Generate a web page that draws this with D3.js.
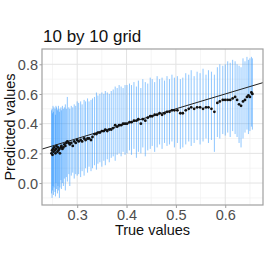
<!DOCTYPE html>
<html><head><meta charset="utf-8">
<script src="https://cdn.jsdelivr.net/npm/d3@7"></script>
<style>body{margin:0;background:#fff;}svg{display:block;font-family:"Liberation Sans",Arial,sans-serif;}</style>
</head><body>
<svg id="c" width="266" height="268"></svg>
<script>
const title = "10 by 10 grid";
const xLabel = "True values";
const yLabel = "Predicted values";
const xTicks = [0.3, 0.4, 0.5, 0.6];
const yTicks = [0.0, 0.2, 0.4, 0.6, 0.8];
const xMinor = [0.25, 0.35, 0.45, 0.55, 0.65];
const yMinor = [-0.1, 0.1, 0.3, 0.5, 0.7];

const trueVals = [
0.248,0.249,0.250,0.251,0.252,0.253,0.255,0.256,0.257,0.258,0.260,0.261,0.262,0.264,0.265,0.267,0.268,0.270,0.272,0.274,0.276,0.278,0.280,0.283,0.285,0.288,0.291,0.294,0.297,0.300,
0.303,0.307,0.310,0.314,0.317,0.321,0.324,0.328,0.331,0.335,0.339,0.342,0.346,0.350,0.354,0.357,0.361,0.365,0.369,0.373,0.377,0.381,0.385,0.389,0.393,0.397,
0.401,0.406,0.410,0.415,0.420,0.424,0.429,0.433,0.438,0.443,0.448,0.452,0.457,0.462,0.467,0.472,0.477,0.482,0.487,0.492,0.497,
0.503,0.509,0.514,0.520,0.526,0.531,0.537,0.543,0.549,0.555,0.561,0.566,0.572,0.578,0.584,0.589,0.595,
0.600,0.605,0.610,0.615,0.620,0.624,0.628,0.632,0.636,0.640,0.644,0.647,0.650,0.653,0.655];

const predVals = [
0.20,0.22,0.19,0.23,0.21,0.24,0.22,0.20,0.23,0.25,0.21,0.24,0.22,0.23,0.20,0.24,0.25,0.23,0.24,0.26,0.25,0.27,0.28,0.27,0.26,0.27,0.25,0.28,0.27,0.29,
0.28,0.29,0.28,0.30,0.29,0.30,0.30,0.29,0.31,0.33,0.33,0.34,0.34,0.35,0.35,0.36,0.35,0.36,0.36,0.37,0.39,0.38,0.39,0.39,0.40,0.40,
0.40,0.41,0.41,0.42,0.42,0.43,0.40,0.43,0.42,0.44,0.45,0.45,0.46,0.46,0.47,0.46,0.47,0.48,0.48,0.49,0.49,
0.49,0.47,0.47,0.49,0.50,0.51,0.50,0.51,0.51,0.50,0.51,0.51,0.50,0.48,0.54,0.55,0.56,
0.56,0.56,0.56,0.57,0.58,0.56,0.53,0.52,0.55,0.56,0.58,0.59,0.58,0.61,0.60];

const upperVals = [
0.49,0.50,0.47,0.52,0.48,0.51,0.50,0.46,0.52,0.51,0.49,0.50,0.52,0.48,0.50,0.51,0.49,0.52,0.50,0.51,0.53,0.50,0.58,0.51,0.50,0.52,0.51,0.53,0.52,0.55,
0.54,0.55,0.53,0.56,0.55,0.57,0.55,0.56,0.57,0.58,0.61,0.59,0.60,0.61,0.60,0.62,0.61,0.60,0.62,0.63,0.65,0.64,0.66,0.65,0.64,0.66,
0.66,0.67,0.66,0.68,0.65,0.69,0.64,0.70,0.68,0.67,0.71,0.70,0.68,0.72,0.70,0.71,0.69,0.72,0.70,0.73,0.71,
0.72,0.70,0.71,0.74,0.73,0.76,0.72,0.75,0.74,0.77,0.73,0.76,0.75,0.73,0.78,0.80,0.79,
0.80,0.82,0.81,0.83,0.82,0.80,0.79,0.78,0.84,0.82,0.85,0.83,0.84,0.85,0.84];

const lowerVals = [
-0.07,-0.10,-0.05,-0.02,-0.08,-0.03,-0.06,-0.09,0.00,-0.04,-0.07,-0.02,-0.05,-0.10,-0.03,0.02,-0.04,0.00,-0.02,0.03,-0.05,0.04,0.01,0.06,-0.02,0.05,0.07,0.03,0.06,0.05,
0.06,0.04,0.08,0.05,0.10,0.07,0.11,0.08,0.10,0.12,0.09,0.13,0.14,0.11,0.15,0.12,0.16,0.14,0.17,0.18,0.15,0.19,0.20,0.18,0.21,0.19,
0.20,0.22,0.19,0.23,0.17,0.21,0.20,0.24,0.18,0.22,0.23,0.25,0.21,0.24,0.26,0.23,0.27,0.25,0.26,0.28,0.24,
0.27,0.23,0.24,0.26,0.28,0.25,0.27,0.29,0.26,0.28,0.30,0.27,0.29,0.21,0.31,0.30,0.33,
0.32,0.34,0.31,0.35,0.33,0.31,0.27,0.24,0.30,0.34,0.36,0.33,0.35,0.38,0.36];

const data = trueVals.map((t,i)=>({t, p:predVals[i], lo:lowerVals[i], hi:upperVals[i]}));

const L=42, T=49, R=263, B=205;
const svg = d3.select("#c");
const x = d3.scaleLinear().domain([0.2287, 0.6765]).range([L, R]);
const y = d3.scaleLinear().domain([-0.148, 0.903]).range([B, T]);

// grid
const g = svg.append("g");
g.selectAll(".xm").data(xMinor).join("line").attr("x1",d=>x(d)).attr("x2",d=>x(d)).attr("y1",T).attr("y2",B).attr("stroke","#f0f0f0").attr("stroke-width",0.7);
g.selectAll(".ym").data(yMinor).join("line").attr("y1",d=>y(d)).attr("y2",d=>y(d)).attr("x1",L).attr("x2",R).attr("stroke","#f0f0f0").attr("stroke-width",0.7);
g.selectAll(".xM").data(xTicks).join("line").attr("x1",d=>x(d)).attr("x2",d=>x(d)).attr("y1",T).attr("y2",B).attr("stroke","#e3e3e3").attr("stroke-width",1);
g.selectAll(".yM").data(yTicks).join("line").attr("y1",d=>y(d)).attr("y2",d=>y(d)).attr("x1",L).attr("x2",R).attr("stroke","#e3e3e3").attr("stroke-width",1);

svg.append("clipPath").attr("id","clip").append("rect").attr("x",L).attr("y",T).attr("width",R-L).attr("height",B-T);
const pg = svg.append("g").attr("clip-path","url(#clip)");

// error bars
pg.selectAll(".eb").data(data).join("line")
  .attr("x1",d=>x(d.t)).attr("x2",d=>x(d.t))
  .attr("y1",d=>y(d.lo)).attr("y2",d=>y(d.hi))
  .attr("stroke","#3399ff").attr("stroke-opacity",0.55).attr("stroke-width",1);

// identity line
pg.append("line").attr("x1",x(0.2287)).attr("y1",y(0.2287)).attr("x2",x(0.6765)).attr("y2",y(0.6765))
  .attr("stroke","#222").attr("stroke-width",1);

// points
pg.selectAll(".pt").data(data).join("circle")
  .attr("cx",d=>x(d.t)).attr("cy",d=>y(d.p)).attr("r",1.4).attr("fill","#111");

// border
svg.append("rect").attr("x",L).attr("y",T).attr("width",R-L).attr("height",B-T)
  .attr("fill","none").attr("stroke","#a0a0a0").attr("stroke-width",1.2);

// axes
const xa = svg.append("g").attr("transform",`translate(0,${B})`)
  .call(d3.axisBottom(x).tickValues(xTicks).tickFormat(d3.format(".1f")).tickSize(3).tickPadding(1.5));
const ya = svg.append("g").attr("transform",`translate(${L},0)`)
  .call(d3.axisLeft(y).tickValues(yTicks).tickFormat(d3.format(".1f")).tickSize(2.5).tickPadding(1.5));
[xa,ya].forEach(a=>{
  a.select(".domain").remove();
  a.selectAll(".tick line").attr("stroke","#a0a0a0");
  a.selectAll(".tick text").attr("fill","#4d4d4d").style("font-size","14.5px").style("font-family","'Liberation Sans',Arial,sans-serif");
});
ya.selectAll(".tick text").attr("dy","0.36em");

svg.append("text").attr("x",43).attr("y",42).text(title)
  .style("font-size","17px").attr("fill","#111");
svg.append("text").attr("x",(L+R)/2).attr("y",235).attr("text-anchor","middle").text(xLabel)
  .style("font-size","14.5px").attr("fill","#111");
svg.append("text").attr("transform",`translate(15,${(T+B)/2}) rotate(-90)`).attr("text-anchor","middle").text(yLabel)
  .style("font-size","14.5px").attr("fill","#111");
</script>
</body></html>
